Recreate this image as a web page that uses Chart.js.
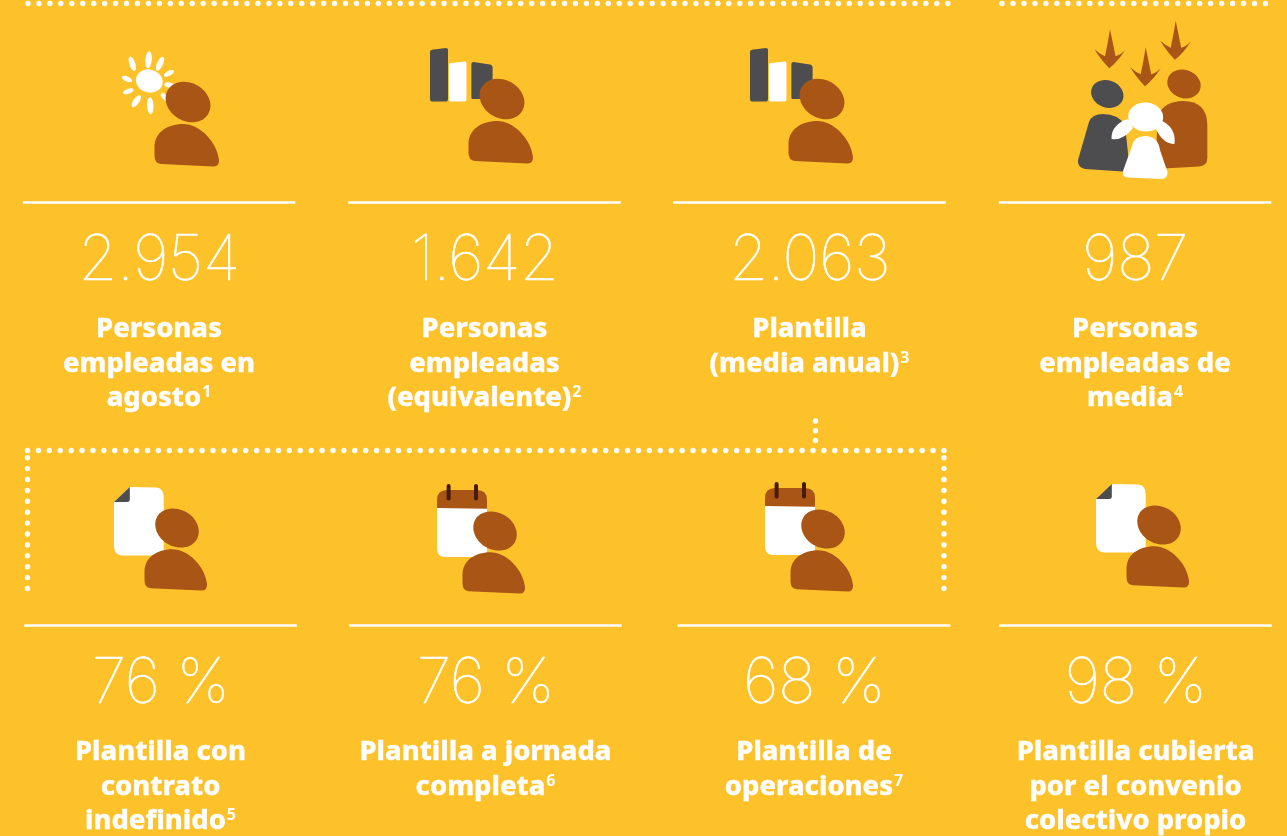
<!DOCTYPE html>
<html lang="es">
<head>
<meta charset="utf-8">
<title>Plantilla</title>
<script src="https://cdn.jsdelivr.net/npm/chart.js@4"></script>
<style>
    html, body { margin: 0; padding: 0; background: #FDC12A; overflow: hidden; }
    canvas { display: block; }
</style>
</head>
<body>
<canvas id="kpiChart" width="1287" height="836"></canvas>
<script>
// values
const kpiValues = [2954, 1642, 2063, 987, 76, 76, 68, 98];
const kpiUnits = ['', '', '', '', ' %', ' %', ' %', ' %'];
const kpiLabels = [
    ['Personas', 'empleadas en', 'agosto'],
    ['Personas', 'empleadas', '(equivalente)'],
    ['Plantilla', '(media anual)'],
    ['Personas', 'empleadas de', 'media'],
    ['Plantilla con', 'contrato', 'indefinido'],
    ['Plantilla a jornada', 'completa'],
    ['Plantilla de', 'operaciones'],
    ['Plantilla cubierta', 'por el convenio', 'colectivo propio']
];
const kpiNotes = ['1', '2', '3', '4', '5', '6', '7', ''];
const kpiIcons = ['sun', 'bars', 'bars', 'family', 'doc', 'calendar', 'calendar', 'doc'];

// layout of the sheet, in page pixels
const COLS_TOP = [159, 484.5, 809.5, 1135];
const COLS_BOTTOM = [160.5, 485.5, 814, 1135.5];
const RULE_HALF = 136.3;
const RULE_Y = [202.5, 625.5];
const VALUE_Y = [279.5, 702.7];
const LABEL_Y = [337.3, 760];
const LINE_GAP = 34.5;
const ICON_AT = [[188, 102], [502, 99], [822, 99], [1145, 116], [177, 528], [495, 531], [823, 529], [1159, 525]];

const VALUE_FONT = '100 63px Inter';
const LABEL_FONT = '800 27.3px "Noto Sans"';
const NOTE_FONT = '700 16px "Noto Sans"';

const BROWN = '#A85515', GREY = '#4D4D4F', WHITE = '#FFFFFF', DARK = '#4A1A08';

function formatValue(v) {
    return v >= 1000 ? Math.floor(v / 1000) + '.' + String(v % 1000).padStart(3, '0') : String(v);
}

function ellipse(ctx, x, y, rx, ry, deg, color) {
    ctx.fillStyle = color;
    ctx.beginPath();
    ctx.ellipse(x, y, rx, ry, deg * Math.PI / 180, 0, Math.PI * 2);
    ctx.fill();
}

function shape(ctx, d, color) {
    ctx.fillStyle = color;
    ctx.fill(new Path2D(d));
}

function person(ctx, k) {
    ctx.save();
    ctx.scale(k, k);
    shape(ctx, 'M-33.5 45C-33.5 31-21 22-5 22C12 22 29 40 31 58Q31 65 25 64.5L-27 62Q-33.5 61-33.5 54Z', BROWN);
    ellipse(ctx, 0, 0, 23.5, 19, 30, BROWN);
    ctx.restore();
}

function drawSun(ctx) {
    const rays = [
        [-39.4, -42.3, 5, 3.2, 8.5], [-55.7, -38.3, -18, 3, 7.5], [-28, -38.3, 25, 3, 7.5],
        [-19, -28.7, 62, 2.5, 5.5], [-18.7, -17, 100, 2.5, 5], [-23.4, -5, 140, 2.5, 5],
        [-61, -23, -65, 2.5, 5.5], [-59.7, -10.7, 70, 2.5, 5.5], [-51.7, -0.7, 35, 3, 7], [-37.7, 3.7, -3, 3.2, 8.5]
    ];
    rays.forEach(r => ellipse(ctx, r[0], r[1], r[3], r[4], r[2], WHITE));
    ellipse(ctx, -38.7, -21, 13.5, 11.5, 15, WHITE);
    person(ctx, 1);
}

function drawBars(ctx) {
    shape(ctx, 'M-72 -47Q-72 -49-70 -49.3L-56 -51Q-54 -51-54 -49V-0Q-54 2.5-56 2.5H-70Q-72 2.5-72 0Z', GREY);
    shape(ctx, 'M-53 -34Q-53 -36-51 -36L-37.5 -37.5Q-35.5 -37.5-35.5 -35.5V0.5Q-35.5 2.5-37.5 2.5H-51Q-53 2.5-53 0.5Z', WHITE);
    shape(ctx, 'M-30.6 -35Q-30.6 -37-28.6 -37L-12 -34.5Q-9.4 -34-9.4 -31V0H-28.6Q-30.6 0.5-30.6 -1.5Z', GREY);
    person(ctx, 1);
}

function drawDoc(ctx) {
    shape(ctx, 'M-47.2 -41L-21 -40.5Q-13.3 -40-13.3 -31V27.5H-54Q-63 27.5-63 18V-26Z', WHITE);
    shape(ctx, 'M-47.2 -41V-28.5Q-47.2 -26-50 -26H-63Z', GREY);
    person(ctx, 0.97);
}

function drawCalendar(ctx) {
    shape(ctx, 'M-58 -23H-8V26H-50Q-58 26-58 17Z', WHITE);
    shape(ctx, 'M-58 -31Q-58 -41-48 -41H-18Q-8 -41-8 -31V-22.3L-58 -23Z', BROWN);
    ctx.strokeStyle = DARK;
    ctx.lineWidth = 4;
    ctx.lineCap = 'round';
    [-46.4, -19].forEach(x => {
        ctx.beginPath();
        ctx.moveTo(x, -45);
        ctx.lineTo(x, -32.5);
        ctx.stroke();
    });
    person(ctx, 0.97);
}

function arrow(ctx, x, y) {
    ctx.save();
    ctx.translate(x, y);
    shape(ctx, 'M0 0Q2.5 12 5.5 27Q10 26 15 21Q8 32-0.7 39Q-8 32-15.5 20Q-10 25-5 27Q-2 13 0 0Z', BROWN);
    ctx.restore();
}

function drawFamily(ctx) {
    arrow(ctx, -35, -86.7);
    arrow(ctx, 0.7, -68.7);
    arrow(ctx, 30.7, -95.3);
    shape(ctx, 'M-67 44L-56 6Q-53 -2-42 -2Q-27 -2-20 9L-15 56L-60 53Q-68 51-67 44Z', GREY);
    ellipse(ctx, -37.7, -22, 16.5, 13.5, 20, GREY);
    shape(ctx, 'M62.3 9Q62 -15 38 -15Q20 -15 13 -1L10 53L54 50.5Q62.3 50 62.3 42Z', BROWN);
    ellipse(ctx, 39, -32, 17, 14, 20, BROWN);
    shape(ctx, 'M-17 3C-27 6-34 13-33.5 23Q-22 25-12 12Z', WHITE);
    shape(ctx, 'M15 4C25 8 31 16 29.5 28Q18 28 11 13Z', WHITE);
    shape(ctx, 'M0 20Q13 20 15 34L22.5 56Q23 63 16 63L-17 61.5Q-23 61-22 55L-13 30Q-11 20 0 20Z', WHITE);
    ellipse(ctx, 0.7, 1, 17.5, 14.5, 5, WHITE);
}

const iconDrawers = { sun: drawSun, bars: drawBars, doc: drawDoc, calendar: drawCalendar, family: drawFamily };

// text and pictograms hang off the anchor points of the datasets below
const kpiPlugin = {
    id: 'kpiPlugin',
    afterDatasetsDraw(chart) {
        const ctx = chart.ctx;
        const textMeta = chart.getDatasetMeta(chart.data.datasets.findIndex(d => d.label === 'kpi'));
        const iconMeta = chart.getDatasetMeta(chart.data.datasets.findIndex(d => d.label === 'icons'));
        kpiValues.forEach((v, i) => {
            const pt = textMeta.data[i];
            ctx.save();
            ctx.translate(iconMeta.data[i].x, iconMeta.data[i].y);
            iconDrawers[kpiIcons[i]](ctx);
            ctx.restore();

            ctx.save();
            ctx.fillStyle = WHITE;
            ctx.strokeStyle = WHITE;
            ctx.lineWidth = 0.6;
            ctx.textBaseline = 'alphabetic';
            ctx.textAlign = 'center';
            ctx.font = VALUE_FONT;
            ctx.letterSpacing = '-0.6px';
            ctx.fillText(formatValue(v) + kpiUnits[i], pt.x, pt.y);
            ctx.strokeText(formatValue(v) + kpiUnits[i], pt.x, pt.y);
            ctx.letterSpacing = '0px';

            const row = i < 4 ? 0 : 1;
            ctx.lineWidth = 0.3;
            kpiLabels[i].forEach((line, n) => {
                const y = LABEL_Y[row] + n * LINE_GAP;
                const note = n === kpiLabels[i].length - 1 ? kpiNotes[i] : '';
                ctx.font = LABEL_FONT;
                const w = ctx.measureText(line).width;
                let sw = 0;
                if (note) {
                    ctx.font = NOTE_FONT;
                    sw = ctx.measureText(note).width + 1;
                }
                const left = pt.x - (w + sw) / 2;
                ctx.textAlign = 'left';
                ctx.font = LABEL_FONT;
                ctx.fillText(line, left, y);
                ctx.strokeText(line, left, y);
                if (note) {
                    ctx.font = NOTE_FONT;
                    ctx.fillText(note, left + w + 1, y - 9);
                }
            });
            ctx.restore();
        });
    }
};

function dotted(x1, y1, x2, y2, gap) {
    return { showLine: true, borderColor: WHITE, borderWidth: 5.4, borderDash: [0, gap], borderCapStyle: 'round', pointRadius: 0, fill: false, data: [{ x: x1, y: y1 }, { x: x2, y: y2 }] };
}

const rule = { showLine: true, borderColor: WHITE, borderWidth: 2.5, pointRadius: 0, fill: false };

const datasets = [
    dotted(28, 3.5, 948.5, 3.5, 10.95),
    dotted(1002, 3.5, 1266.5, 3.5, 10.98),
    dotted(27.5, 450.5, 944.5, 450.5, 10.91),
    dotted(27.5, 457.7, 27.5, 589, 10.9),
    dotted(944, 457.7, 944, 589, 10.9),
    dotted(815.5, 421, 815.5, 450, 9.7)
];
COLS_TOP.forEach(x => datasets.push(Object.assign({ data: [{ x: x - RULE_HALF, y: RULE_Y[0] }, { x: x + RULE_HALF, y: RULE_Y[0] }] }, rule)));
COLS_BOTTOM.forEach(x => datasets.push(Object.assign({ data: [{ x: x - RULE_HALF, y: RULE_Y[1] }, { x: x + RULE_HALF, y: RULE_Y[1] }] }, rule)));
datasets.push({
    label: 'kpi',
    pointRadius: 0,
    data: kpiValues.map((v, i) => i < 4 ? { x: COLS_TOP[i], y: VALUE_Y[0] } : { x: COLS_BOTTOM[i - 4], y: VALUE_Y[1] })
});
datasets.push({
    label: 'icons',
    pointRadius: 0,
    data: ICON_AT.map(p => ({ x: p[0], y: p[1] }))
});

new Chart(document.getElementById('kpiChart').getContext('2d'), {
    type: 'scatter',
    data: { datasets: datasets },
    plugins: [kpiPlugin],
    options: {
        responsive: false,
        animation: false,
        layout: { padding: 0 },
        plugins: { legend: { display: false }, tooltip: { enabled: false } },
        scales: {
            x: { type: 'linear', min: 0, max: 1287, display: false },
            y: { type: 'linear', min: 0, max: 836, reverse: true, display: false }
        }
    }
});
</script>
</body>
</html>
